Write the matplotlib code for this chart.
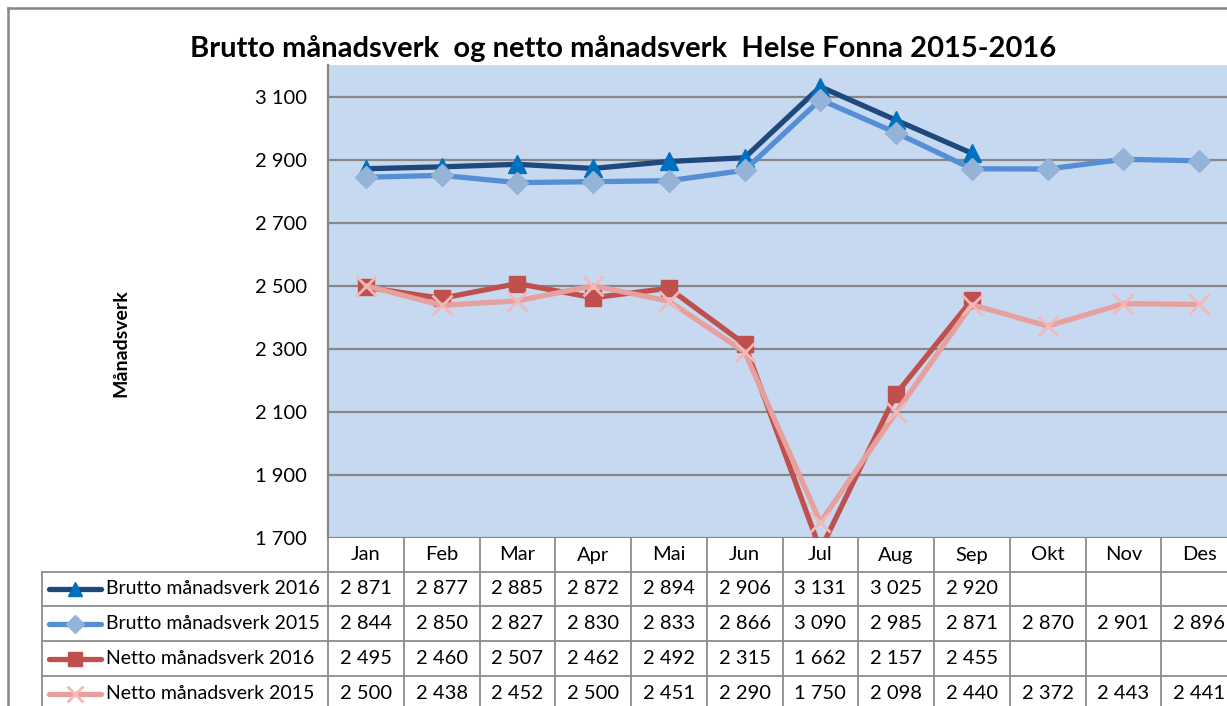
import matplotlib
matplotlib.use("Agg")
import matplotlib.pyplot as plt
from matplotlib.transforms import blended_transform_factory
from matplotlib.lines import Line2D

months = ["Jan", "Feb", "Mar", "Apr", "Mai", "Jun", "Jul", "Aug", "Sep", "Okt", "Nov", "Des"]
brutto_2016 = [2871, 2877, 2885, 2872, 2894, 2906, 3131, 3025, 2920, None, None, None]
brutto_2015 = [2844, 2850, 2827, 2830, 2833, 2866, 3090, 2985, 2871, 2870, 2901, 2896]
netto_2016 = [2495, 2460, 2507, 2462, 2492, 2315, 1662, 2157, 2455, None, None, None]
netto_2015 = [2500, 2438, 2452, 2500, 2451, 2290, 1750, 2098, 2440, 2372, 2443, 2441]
series_names = ["Brutto månadsverk 2016", "Brutto månadsverk 2015",
                "Netto månadsverk 2016", "Netto månadsverk 2015"]
y_ticks = [1700, 1900, 2100, 2300, 2500, 2700, 2900, 3100]
title = "Brutto månadsverk  og netto månadsverk  Helse Fonna 2015-2016"
y_label = "Månadsverk"

plt.rcParams['font.family'] = ['Lato', 'DejaVu Sans']

W, H = 1227, 706
fig = plt.figure(figsize=(W / 100, H / 100), dpi=100)

def fx(x):
    return x / W

def fy(y):
    return 1 - y / H

FS = 14.5
left, right, top, bottom = 328, 1237, 65, 538
ax = fig.add_axes([fx(left), fy(bottom), fx(right) - fx(left), fy(top) - fy(bottom)])
ax.set_facecolor("#C6D9F1")
ax.set_xlim(-0.5, 11.5)
ax.set_ylim(1700, 3200)
ax.set_yticks(y_ticks)
ax.set_yticklabels([f"{v:,}".replace(",", " ") for v in y_ticks], fontsize=FS)
ax.set_xticks([])
ax.tick_params(axis='y', length=0, pad=15)
ax.grid(axis='y', color="#878787", lw=1.6)
ax.set_axisbelow(True)
for s in ["top", "right", "bottom"]:
    ax.spines[s].set_visible(False)
ax.spines["left"].set_color("#878787")
ax.spines["left"].set_linewidth(1.6)

styles = [
    dict(color="#1F497D", marker="^", mfc="#0070C0", mec="#0070C0", ms=12.5),
    dict(color="#558ED5", marker="D", mfc="#95B3D7", mec="#95B3D7", ms=11.5),
    dict(color="#C0504D", marker="s", mfc="#C0504D", mec="#C0504D", ms=12),
    dict(color="#E6A09E", marker="x", mfc="#F2B9B8", mec="#F2B9B8", ms=15, mew=2),
]
data = [brutto_2016, brutto_2015, netto_2016, netto_2015]
xs = list(range(len(months)))
for vals, st in zip(data, styles):
    px = [x for x, v in zip(xs, vals) if v is not None]
    py = [v for v in vals if v is not None]
    ax.plot(px, py, lw=3.8, solid_capstyle="round", solid_joinstyle="round", zorder=3, **st)

fig.text(fx(623), fy(48), title, ha="center", va="center", fontsize=21, fontweight="bold")
fig.text(fx(121), fy(343), y_label, ha="center", va="center", rotation=90,
         fontsize=14, fontweight="bold")

# Outer chart border
grey = "#878787"
fig.add_artist(Line2D([fx(8), fx(8)], [fy(8), fy(720)], color=grey, lw=1.8))
fig.add_artist(Line2D([fx(8), fx(1240)], [fy(8), fy(8)], color=grey, lw=1.8))

# Data table
tr = blended_transform_factory(ax.transData, fig.transFigure)
row_y = [538, 572, 606, 641, 676, 711]
tcol = "#8C8C8C"
for y in row_y[1:]:
    fig.add_artist(Line2D([fx(42), fx(1240)], [fy(y), fy(y)], color=tcol, lw=1.3))
fig.add_artist(Line2D([fx(42), fx(42)], [fy(572), fy(720)], color=tcol, lw=1.3))
fig.add_artist(Line2D([fx(left), fx(left)], [fy(538), fy(720)], color=tcol, lw=1.3))
for b in range(1, 13):
    fig.add_artist(Line2D([b - 0.5, b - 0.5], [fy(538), fy(720)], color=tcol, lw=1.3, transform=tr))

for i, m in enumerate(months):
    fig.text(i, fy(555), m, transform=tr, ha="center", va="center", fontsize=FS)

for r, (vals, st, name) in enumerate(zip(data, styles, series_names)):
    yc = (row_y[r + 1] + row_y[r + 2]) / 2
    for i, v in enumerate(vals):
        if v is not None:
            fig.text(i, fy(yc), f"{v:,}".replace(",", " "), transform=tr,
                     ha="center", va="center", fontsize=FS)
    fig.text(fx(106), fy(yc), name, ha="left", va="center", fontsize=14)
    kst = dict(st)
    kst["ms"] = st["ms"] * 0.8
    fig.add_artist(Line2D([fx(49), fx(75), fx(101)], [fy(yc)] * 3, lw=3.8,
                          solid_capstyle="round", markevery=[1], **kst))

fig.savefig("out.png", dpi=100)
